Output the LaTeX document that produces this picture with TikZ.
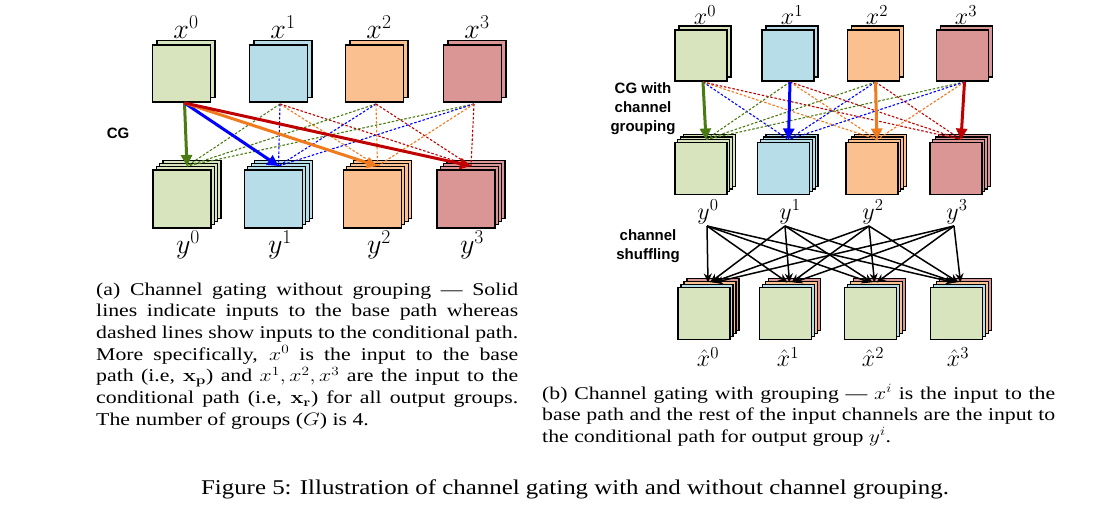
\RequirePackage{fix-cm}
\documentclass[tikz,border=0pt]{standalone}
\usepackage[no-math]{fontspec}
\setmainfont{Liberation Serif}
\newfontfamily\arialf{Liberation Sans}
\usepackage{graphicx}
\usetikzlibrary{calc,arrows.meta}
\definecolor{gF}{HTML}{D7E4BD}
\definecolor{bF}{HTML}{B7DEE8}
\definecolor{oF}{HTML}{FAC090}
\definecolor{rF}{HTML}{D99694}
\definecolor{gL}{HTML}{4A7A12}
\definecolor{bL}{HTML}{0000FF}
\definecolor{oL}{HTML}{F07A1E}
\definecolor{rL}{HTML}{C00000}
\newcommand\capfont{\fontsize{18}{21.7}\selectfont}
\newcommand\figfont{\fontsize{21}{24}\selectfont}
\newcommand\lblA{\fontsize{28}{32}\selectfont}
\newcommand\lblB{\fontsize{24}{28}\selectfont}
\newcommand\stk[8]{%
 \foreach \k in {#6,...,1}{\filldraw[lay,fill=#8] (#2+\k*#7,#3-\k*#7) rectangle ++(#4,#5);}%
 \node[lay,fill=#8,minimum width=#4pt,minimum height=#5pt,anchor=north west,inner sep=0pt,outer sep=0pt] (#1) at (#2,#3) {};}
\tikzset{
 lay/.style={draw=black,line width=1.2pt},
 sarr/.style={line width=3pt,-{Triangle[length=11pt,width=11pt]}},
 dsh/.style={line width=1.1pt,dash pattern=on 2.5pt off 1.8pt},
 shf/.style={line width=1.5pt,-{Stealth[length=9pt,width=8pt]}},
 labA/.style={inner sep=0pt,font=\lblA},
 labB/.style={inner sep=0pt,font=\lblB},
 sans/.style={inner sep=0pt,align=center,font=\arialf\bfseries\fontsize{15}{19}\selectfont},
}
\begin{document}
\begin{tikzpicture}[x=1pt,y=-1pt]
\fill[white] (0,0) rectangle (1101,509);
\useasboundingbox (0,0) rectangle (1101,509);
% ---------------- panel (a)
\stk{xa0}{152.5}{45}{58}{57}{1}{4.5}{gF}
\stk{xa1}{249.5}{45}{58}{57}{1}{4.5}{bF}
\stk{xa2}{345.5}{45}{58}{57}{1}{4.5}{oF}
\stk{xa3}{443.5}{45}{58}{57}{1}{4.5}{rF}
\stk{ya0}{153}{170}{58}{58}{3}{3.3}{gF}
\stk{ya1}{244.5}{170}{58}{58}{3}{3.3}{bF}
\stk{ya2}{343.5}{170}{58}{58}{3}{3.3}{oF}
\stk{ya3}{437}{170}{58}{58}{3}{3.3}{rF}
\node[labA] (lxa0) at (186,27) {$x^0$};
\node[labA] (lxa1) at (283,27) {$x^1$};
\node[labA] (lxa2) at (379,27) {$x^2$};
\node[labA] (lxa3) at (477,27) {$x^3$};
\node[labA] (lya0) at (188,245) {$y^0$};
\node[labA] (lya1) at (280,245) {$y^1$};
\node[labA] (lya2) at (379,245) {$y^2$};
\node[labA] (lya3) at (472,245) {$y^3$};
\node[sans] (cga) at (118,133) {CG};
\coordinate (sa0) at ($(xa0.south)+(3,1)$);
\foreach \j in {1,2,3}{\coordinate (sa\j) at ($(xa\j.south)+(1.5,2)$);}
\foreach \i in {0,1,2,3}{\coordinate (ta\i) at ($(ya\i.north)+(5,-4)$);}
\foreach \j in {1,2,3}{
  \foreach \i/\c in {0/gL,1/bL,2/oL,3/rL}{\draw[dsh,\c] (sa\j) -- (ta\i);}}
\foreach \i/\c in {0/gL,1/bL,2/oL,3/rL}{\draw[sarr,\c] (sa0) -- (ta\i);}
% ---------------- panel (b)
\stk{xb0}{675}{30}{52}{51}{1}{4}{gF}
\stk{xb1}{762}{30}{52}{51}{1}{4}{bF}
\stk{xb2}{847.5}{30}{52}{51}{1}{4}{oF}
\stk{xb3}{936.5}{30}{52}{51}{1}{4}{rF}
\stk{yb0}{675}{142.5}{52}{52}{3}{2.8}{gF}
\stk{yb1}{757.5}{142.5}{52}{52}{3}{2.8}{bF}
\stk{yb2}{846}{142.5}{52}{52}{3}{2.8}{oF}
\stk{yb3}{930}{142.5}{52}{52}{3}{2.8}{rF}
\node[labB] (lxb0) at (705,15) {$x^0$};
\node[labB] (lxb1) at (792,15) {$x^1$};
\node[labB] (lxb2) at (877,15) {$x^2$};
\node[labB] (lxb3) at (966,15) {$x^3$};
\node[labB] (lyb0) at (708,212) {$y^0$};
\node[labB] (lyb1) at (790,212) {$y^1$};
\node[labB] (lyb2) at (873,212) {$y^2$};
\node[labB] (lyb3) at (957,212) {$y^3$};
\node[sans] (cgb) at (643,109) {CG with\\channel\\grouping};
\foreach \j in {0,1,2,3}{\coordinate (sb\j) at ($(xb\j.south)+(2,1)$);}
\foreach \i in {0,1,2,3}{\coordinate (tb\i) at ($(yb\i.north)+(5,-3)$);}
\foreach \j in {0,1,2,3}{
  \foreach \i/\c in {0/gL,1/bL,2/oL,3/rL}{\ifnum\i=\j\else\draw[dsh,\c] (sb\j) -- (tb\i);\fi}}
\foreach \i/\c in {0/gL,1/bL,2/oL,3/rL}{\draw[sarr,\c] (sb\i) -- (tb\i);}
% ---------------- shuffling
\foreach \k/\xx in {0/678,1/759.5,2/844.5,3/930.5}{
  \filldraw[lay,fill=rF] (\xx+9,287.5-9) rectangle ++(52,52);
  \filldraw[lay,fill=oF] (\xx+6,287.5-6) rectangle ++(52,52);
  \filldraw[lay,fill=bF] (\xx+3,287.5-3) rectangle ++(52,52);
  \node[lay,fill=gF,minimum width=52pt,minimum height=52pt,anchor=north west,inner sep=0pt,outer sep=0pt] (xh\k) at (\xx,287.5) {};
}
\node[labB] (lxh0) at (708,357) {$\hat{x}^0$};
\node[labB] (lxh1) at (788,357) {$\hat{x}^1$};
\node[labB] (lxh2) at (873,357) {$\hat{x}^2$};
\node[labB] (lxh3) at (958,357) {$\hat{x}^3$};
\node[sans] (csh) at (648,246) {channel\\shuffling};
\coordinate (ss0) at (707,226);
\coordinate (ss1) at (785,226);
\coordinate (ss2) at (869,226);
\coordinate (ss3) at (954,226);
\foreach \k in {0,1,2,3}{\coordinate (tt\k) at ($(xh\k.north)+(4,-5)$);}
\foreach \i in {0,1,2,3}{\foreach \k in {0,1,2,3}{
  \draw[shf] (ss\i) -- ($(tt\k)+(\i*2-\k*2,0)$);}}
% ---------------- captions
\node[anchor=base west,inner sep=0pt] (capa) at (96,295) {\scalebox{1.21}[1]{\begin{minipage}[t]{348.8pt}\capfont
(a) Channel gating without grouping — Solid\linebreak
lines indicate inputs to the base path whereas\linebreak
dashed lines show inputs to the conditional path.\linebreak
More specifically, $x^0$ is the input to the base\linebreak
path (i.e, $\mathbf{x_p}$) and $x^1, x^2, x^3$ are the input to the\linebreak
conditional path (i.e, $\mathbf{x_r}$) for all output groups.\linebreak
The number of groups ($G$) is 4.\end{minipage}}};
\node[anchor=base west,inner sep=0pt] (capb) at (542,399) {\scalebox{1.21}[1]{\begin{minipage}[t]{424pt}\capfont
(b) Channel gating with grouping — $x^i$ is the input to the\linebreak
base path and the rest of the input channels are the input to\linebreak
the conditional path for output group $y^i$.\end{minipage}}};
\node[anchor=base,inner sep=0pt] (capf) at (575,494) {\scalebox{1.185}[1]{\figfont Figure 5: Illustration of channel gating with and without channel grouping.}};
\end{tikzpicture}
\end{document}
